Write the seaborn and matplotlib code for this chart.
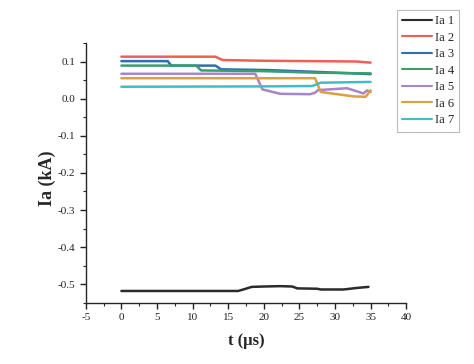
import matplotlib
matplotlib.use("Agg")
import matplotlib.pyplot as plt
import seaborn as sns
import pandas as pd
from matplotlib.ticker import MultipleLocator

# currents Ia 1..7 (t in us, Ia in kA)
t1 = [0, 16.4, 17.3, 18.3, 20, 22.3, 24, 24.7, 27.5, 28, 31.2, 33, 34.7]
ia1 = [-0.518, -0.518, -0.513, -0.507, -0.506, -0.505, -0.506, -0.511, -0.512, -0.514, -0.514, -0.510, -0.507]
t2 = [0, 13.2, 14.2, 20, 27, 33, 35]
ia2 = [0.113, 0.113, 0.104, 0.102, 0.101, 0.100, 0.097]
t3 = [0, 6.5, 7.0, 13.2, 14, 20.5, 27.5, 35]
ia3 = [0.101, 0.101, 0.089, 0.089, 0.079, 0.077, 0.072, 0.066]
t4 = [0, 10.5, 11.2, 20, 27, 35]
ia4 = [0.089, 0.089, 0.076, 0.074, 0.070, 0.068]
t5 = [0, 18.8, 19.8, 22.3, 26.5, 27.2, 27.6, 31.7, 34, 34.5, 35]
ia5 = [0.067, 0.067, 0.025, 0.013, 0.012, 0.016, 0.023, 0.028, 0.014, 0.022, 0.018]
t6 = [0, 27.2, 28, 32.6, 34.3, 35]
ia6 = [0.055, 0.055, 0.018, 0.006, 0.005, 0.022]
t7 = [0, 20, 26.8, 28, 35]
ia7 = [0.032, 0.033, 0.034, 0.043, 0.045]

names = ["Ia 1", "Ia 2", "Ia 3", "Ia 4", "Ia 5", "Ia 6", "Ia 7"]
colors = ["#2b2b2b", "#ee5f57", "#2f6db4", "#3a9f6e", "#a685c8", "#d9a13f", "#45bcc4"]

frames = []
for name, t, ia in zip(names, [t1, t2, t3, t4, t5, t6, t7], [ia1, ia2, ia3, ia4, ia5, ia6, ia7]):
    frames.append(pd.DataFrame({"t": t, "Ia": ia, "series": name}))
df = pd.concat(frames, ignore_index=True)

sns.set_style("ticks")
plt.rcParams["font.family"] = ["Liberation Serif", "DejaVu Serif"]
plt.rcParams["axes.unicode_minus"] = False

fig = plt.figure(figsize=(4.74, 3.64), dpi=100)
ax = fig.add_axes([0.181, 0.168, 0.676, 0.714])
sns.lineplot(data=df, x="t", y="Ia", hue="series", palette=colors, sort=False,
             estimator=None, linewidth=1.8, ax=ax)

ax.set_xlim(-5, 40)
ax.set_ylim(-0.55, 0.15)
ax.xaxis.set_major_locator(MultipleLocator(5))
ax.xaxis.set_minor_locator(MultipleLocator(2.5))
ax.yaxis.set_major_locator(MultipleLocator(0.1))
ax.yaxis.set_minor_locator(MultipleLocator(0.05))
ax.yaxis.set_major_formatter(lambda v, p: f"{v:.1f}")
ax.tick_params(which="major", length=4, width=1, labelsize=8, colors="#222222")
ax.tick_params(which="minor", length=2.5, width=0.8)
sns.despine(ax=ax)
for s in ["left", "bottom"]:
    ax.spines[s].set_linewidth(1)

ax.set_xlabel("t (μs)", fontsize=12, fontweight="bold", labelpad=8)
ax.set_ylabel("Ia (kA)", fontsize=13, fontweight="bold")
ax.yaxis.set_label_coords(-0.094, 0.479)

leg = ax.legend(loc="upper left", bbox_to_anchor=(397 / 474, 1 - 10 / 364), bbox_transform=fig.transFigure,
                frameon=True, fancybox=False, edgecolor="#aaaaaa", fontsize=9, handlelength=2.4,
                labelspacing=0.36, borderpad=0.42, handletextpad=0.2, borderaxespad=0)
leg.get_frame().set_linewidth(0.8)
for line in leg.get_lines():
    line.set_linewidth(1.5)

fig.savefig("out.png", dpi=100)
